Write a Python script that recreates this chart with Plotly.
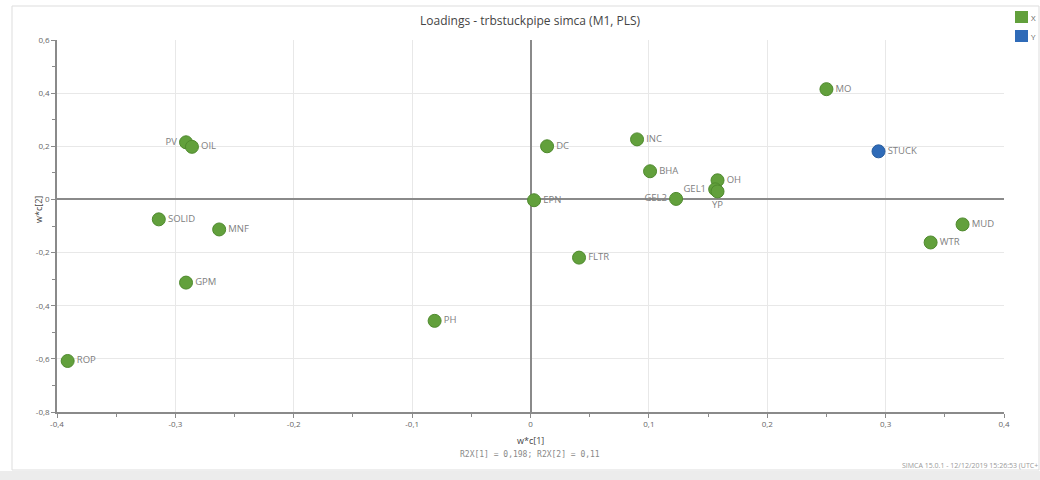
import plotly.graph_objects as go

# X variables (green)
x_names = ["PV", "OIL", "SOLID", "MNF", "GPM", "ROP", "PH", "DC", "EPN", "FLTR",
           "INC", "BHA", "GEL2", "OH", "GEL1", "YP", "MO", "MUD", "WTR"]
x_c1 = [-0.291, -0.286, -0.314, -0.263, -0.291, -0.391, -0.081, 0.014, 0.003, 0.041,
        0.090, 0.101, 0.123, 0.158, 0.156, 0.158, 0.250, 0.365, 0.338]
x_c2 = [0.215, 0.198, -0.075, -0.113, -0.313, -0.608, -0.457, 0.200, -0.003, -0.219,
        0.226, 0.106, 0.002, 0.072, 0.038, 0.030, 0.415, -0.094, -0.162]
x_pos = ["middle left", "middle right", "middle right", "middle right", "middle right",
         "middle right", "middle right", "middle right", "middle right", "middle right",
         "middle right", "middle right", "middle left", "middle right", "middle left",
         "bottom center", "middle right", "middle right", "middle right"]

# Y variables (blue)
y_names = ["STUCK"]
y_c1 = [0.294]
y_c2 = [0.181]

x_tickvals = [-0.4, -0.3, -0.2, -0.1, 0, 0.1, 0.2, 0.3, 0.4]
x_ticktext = ["-0,4", "-0,3", "-0,2", "-0,1", "0", "0,1", "0,2", "0,3", "0,4"]
y_tickvals = [-0.8, -0.6, -0.4, -0.2, 0, 0.2, 0.4, 0.6]
y_ticktext = ["-0,8", "-0,6", "-0,4", "-0,2", "0", "0,2", "0,4", "0,6"]

GREEN = "#62a03c"
BLUE = "#2f6bb8"
FONT = "Open Sans"

fig = go.Figure()
fig.add_trace(go.Scatter(
    x=x_c1, y=x_c2, mode="markers+text", text=x_names, textposition=x_pos,
    textfont=dict(size=9.5, color="#808080", family=FONT),
    marker=dict(size=13, color=GREEN, line=dict(color="#4f8a2e", width=1)),
    showlegend=False, cliponaxis=False))
fig.add_trace(go.Scatter(
    x=y_c1, y=y_c2, mode="markers+text", text=y_names, textposition="middle right",
    textfont=dict(size=9.5, color="#808080", family=FONT),
    marker=dict(size=13, color=BLUE, line=dict(color="#275c9e", width=1)),
    showlegend=False, cliponaxis=False))

W, H = 1040, 480
L, R, T, B = 57, 36, 40, 68
pw, ph = W - L - R, H - T - B

def px(x):
    return (x - L) / pw

def py(y):
    return (H - B - y) / ph

shapes = [
    # frame
    dict(type="rect", xref="paper", yref="paper", x0=px(12), x1=px(1039), y0=py(470), y1=py(6),
         line=dict(color="#dddddd", width=1), fillcolor="rgba(0,0,0,0)", layer="below"),
    dict(type="rect", xref="paper", yref="paper", x0=px(0), x1=px(1040), y0=py(480), y1=py(471),
         line=dict(width=0), fillcolor="#ececec", layer="below"),
    # legend squares
    dict(type="rect", xref="paper", yref="paper", x0=px(1015), x1=px(1028), y0=py(23), y1=py(11),
         line=dict(width=0), fillcolor=GREEN),
    dict(type="rect", xref="paper", yref="paper", x0=px(1015), x1=px(1028), y0=py(42), y1=py(30),
         line=dict(width=0), fillcolor=BLUE),
]

annotations = [
    dict(text="Loadings - trbstuckpipe simca (M1, PLS)", xref="paper", yref="paper",
         x=px(530), y=py(20), xanchor="center", yanchor="middle", showarrow=False,
         font=dict(size=12, color="#444", family=FONT)),
    dict(text="w*c[1]", xref="paper", yref="paper", x=px(530), y=py(440), xanchor="center",
         yanchor="middle", showarrow=False, font=dict(size=9, color="#444", family=FONT)),
    dict(text="R2X[1] = 0,198; R2X[2] = 0,11", xref="paper", yref="paper", x=px(530), y=py(455),
         xanchor="center", yanchor="middle", showarrow=False,
         font=dict(size=8, color="#888", family="DejaVu Sans Mono")),
    dict(text="w*c[2]", xref="paper", yref="paper", x=px(38), y=py(210), xanchor="center",
         yanchor="middle", showarrow=False, textangle=-90,
         font=dict(size=9, color="#444", family=FONT)),
    dict(text="SIMCA 15.0.1 - 12/12/2019 15:26:53 (UTC+", xref="paper", yref="paper",
         x=px(1040), y=py(465), xanchor="right", yanchor="middle", showarrow=False,
         font=dict(size=7, color="#999", family=FONT)),
    dict(text="X", xref="paper", yref="paper", x=px(1029), y=py(17), xanchor="left",
         yanchor="middle", showarrow=False, font=dict(size=8, color="#666", family=FONT)),
    dict(text="Y", xref="paper", yref="paper", x=px(1029), y=py(36), xanchor="left",
         yanchor="middle", showarrow=False, font=dict(size=8, color="#666", family=FONT)),
]

axis_common = dict(
    showgrid=True, gridcolor="#e8e8e8", gridwidth=1,
    zeroline=True, zerolinecolor="#8a8a8a", zerolinewidth=1.5,
    showline=True, linecolor="#8a8a8a", linewidth=1.5, mirror=False,
    ticks="outside", ticklen=4, tickcolor="#8a8a8a",
    tickfont=dict(size=8, color="#666", family=FONT),
)

fig.update_layout(
    width=W, height=H,
    margin=dict(l=L, r=R, t=T, b=B),
    paper_bgcolor="white", plot_bgcolor="white",
    xaxis=dict(range=[-0.4, 0.4], tickvals=x_tickvals, ticktext=x_ticktext,
               minor=dict(ticks="outside", ticklen=3, dtick=0.05, tick0=0, tickcolor="#8a8a8a",
                          showgrid=False),
               **axis_common),
    yaxis=dict(range=[-0.8, 0.6], tickvals=y_tickvals, ticktext=y_ticktext,
               minor=dict(ticks="outside", ticklen=3, dtick=0.1, tick0=0, tickcolor="#8a8a8a",
                          showgrid=False),
               **axis_common),
    shapes=shapes, annotations=annotations,
)

fig.write_html("out.html", config={"displayModeBar": False},
               post_script="document.body.style.margin='0';document.body.style.overflow='hidden';")
